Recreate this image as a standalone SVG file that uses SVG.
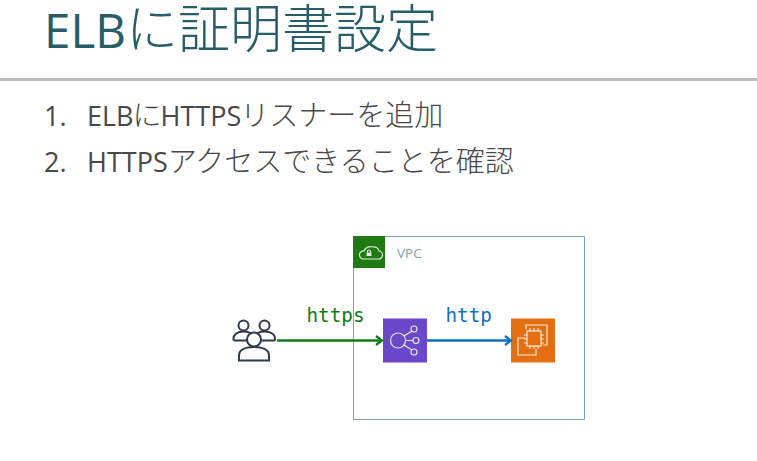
<svg xmlns="http://www.w3.org/2000/svg" width="757" height="461" viewBox="0 0 757 461">
<style>
.l{font-family:"Open Sans","Noto Sans CJK JP",sans-serif;font-weight:400}
.c{font-family:"Noto Sans CJK JP",sans-serif;font-weight:300}
.title{fill:#275d68}
.title .l{font-size:47.500px}
.title .c{font-size:52px}
.li{fill:#484848}
.li .l{font-size:27px}
.li .c{font-size:29px}
.m{font-family:"DejaVu Sans Mono",monospace;font-size:19.300px}
.ic{fill:none;stroke:#fff;stroke-opacity:.85;stroke-width:1.200}
.u{fill:#fff;stroke:#2f3b4c;stroke-width:2}
</style>
<defs>
<marker id="ag" markerWidth="11" markerHeight="12" refX="8" refY="6" orient="auto" markerUnits="userSpaceOnUse"><path d="M2 1.500L8 6L2 10.500" fill="none" stroke="#117a1b" stroke-width="2.200"/></marker>
<marker id="ab" markerWidth="11" markerHeight="12" refX="8" refY="6" orient="auto" markerUnits="userSpaceOnUse"><path d="M2 1.500L8 6L2 10.500" fill="none" stroke="#0f6fc0" stroke-width="2.200"/></marker>
</defs>
<rect width="757" height="461" fill="#fff"/>
<text class="title" x="44" y="48"><tspan class="l">ELB</tspan><tspan class="c">に証明書設定</tspan></text>
<rect x="0" y="78" width="757" height="3" fill="#b9bdbb"/>
<text class="li" x="44" y="126"><tspan class="l">1.</tspan></text>
<text class="li" x="87" y="126"><tspan class="l">ELB</tspan><tspan class="c" dx="-1">に</tspan><tspan class="l" dx="-1">HTTPS</tspan><tspan class="c" dx="-1">リスナーを追加</tspan></text>
<text class="li" x="44" y="172"><tspan class="l">2.</tspan></text>
<text class="li" x="87" y="172"><tspan class="l">HTTPS</tspan><tspan class="c">アクセスできることを確認</tspan></text>
<g id="vpc">
<rect x="353.500" y="236.500" width="231" height="183" fill="none" stroke="#7aa5b8" stroke-width="1"/>
<rect x="353" y="236" width="32" height="32" fill="#1f7a12"/>
<path class="ic" d="M363 259h15a4 4 0 0 0 1-8a5 5 0 0 0-6-4a7 7 0 0 0-9 4a4 4 0 0 0-1 8z" stroke-width="1"/>
<rect x="366.500" y="252.500" width="5" height="3.500" fill="#fff" fill-opacity=".85"/>
<path class="ic" d="M367.500 252.500v-1a1.500 1.500 0 0 1 3 0v1" stroke-width="0.800"/>
<text x="397" y="258" font-family="'Open Sans',sans-serif" font-size="13.500" fill="#7aa5a8">VPC</text>
</g>
<g id="users">
<circle class="u" cx="243.500" cy="325.500" r="5"/>
<circle class="u" cx="264.500" cy="325.500" r="5"/>
<path class="u" d="M233.500 340.500v-2c0-4 4-7 10-7s8 2 9 4M275 340.500v-2c0-4-4-7-10.500-7s-8 2-9 4"/>
<path d="M233.500 340.500h41.500" fill="none" stroke="#2f3b4c" stroke-width="2"/>
<circle class="u" cx="254" cy="339.500" r="7"/>
<path class="u" d="M239 360.500v-5c0-6 7-8.500 15-8.500s15 2.500 15 8.500v5z"/>
</g>
<g id="elb">
<rect x="383" y="318.500" width="44" height="44" fill="#6b47c9"/>
<circle class="ic" cx="398" cy="340.500" r="7.500"/>
<circle class="ic" cx="414" cy="329" r="3"/>
<circle class="ic" cx="416" cy="340.500" r="3"/>
<circle class="ic" cx="414" cy="352" r="3"/>
<path class="ic" d="M405.500 340.500h7.500M404 336l8-5M404 345l8 5"/>
</g>
<g id="ec2">
<rect x="511" y="318.500" width="44" height="44" fill="#e36f10"/>
<path class="ic" d="M526 329v-4h21v20h-4M525 338h-7v17h18v-6"/>
<rect class="ic" x="527" y="331" width="14" height="15"/>
<path class="ic" d="M530 328v3M534 328v3M538 328v3M530 346v3M534 346v3M538 346v3M524 335h3M524 339h3M524 343h3M541 335h3M541 339h3M541 343h3" stroke-width="0.800"/>
</g>
<g id="connectors">
<path d="M277 340.500H382" fill="none" stroke="#117a1b" stroke-width="2.400" marker-end="url(#ag)"/>
<path d="M427 340.500H511" fill="none" stroke="#0f6fc0" stroke-width="2.400" marker-end="url(#ab)"/>
</g>
<text class="m" x="306.500" y="322" fill="#117a1b">https</text>
<text class="m" x="445.500" y="322" fill="#0f6fc0">http</text>
</svg>
